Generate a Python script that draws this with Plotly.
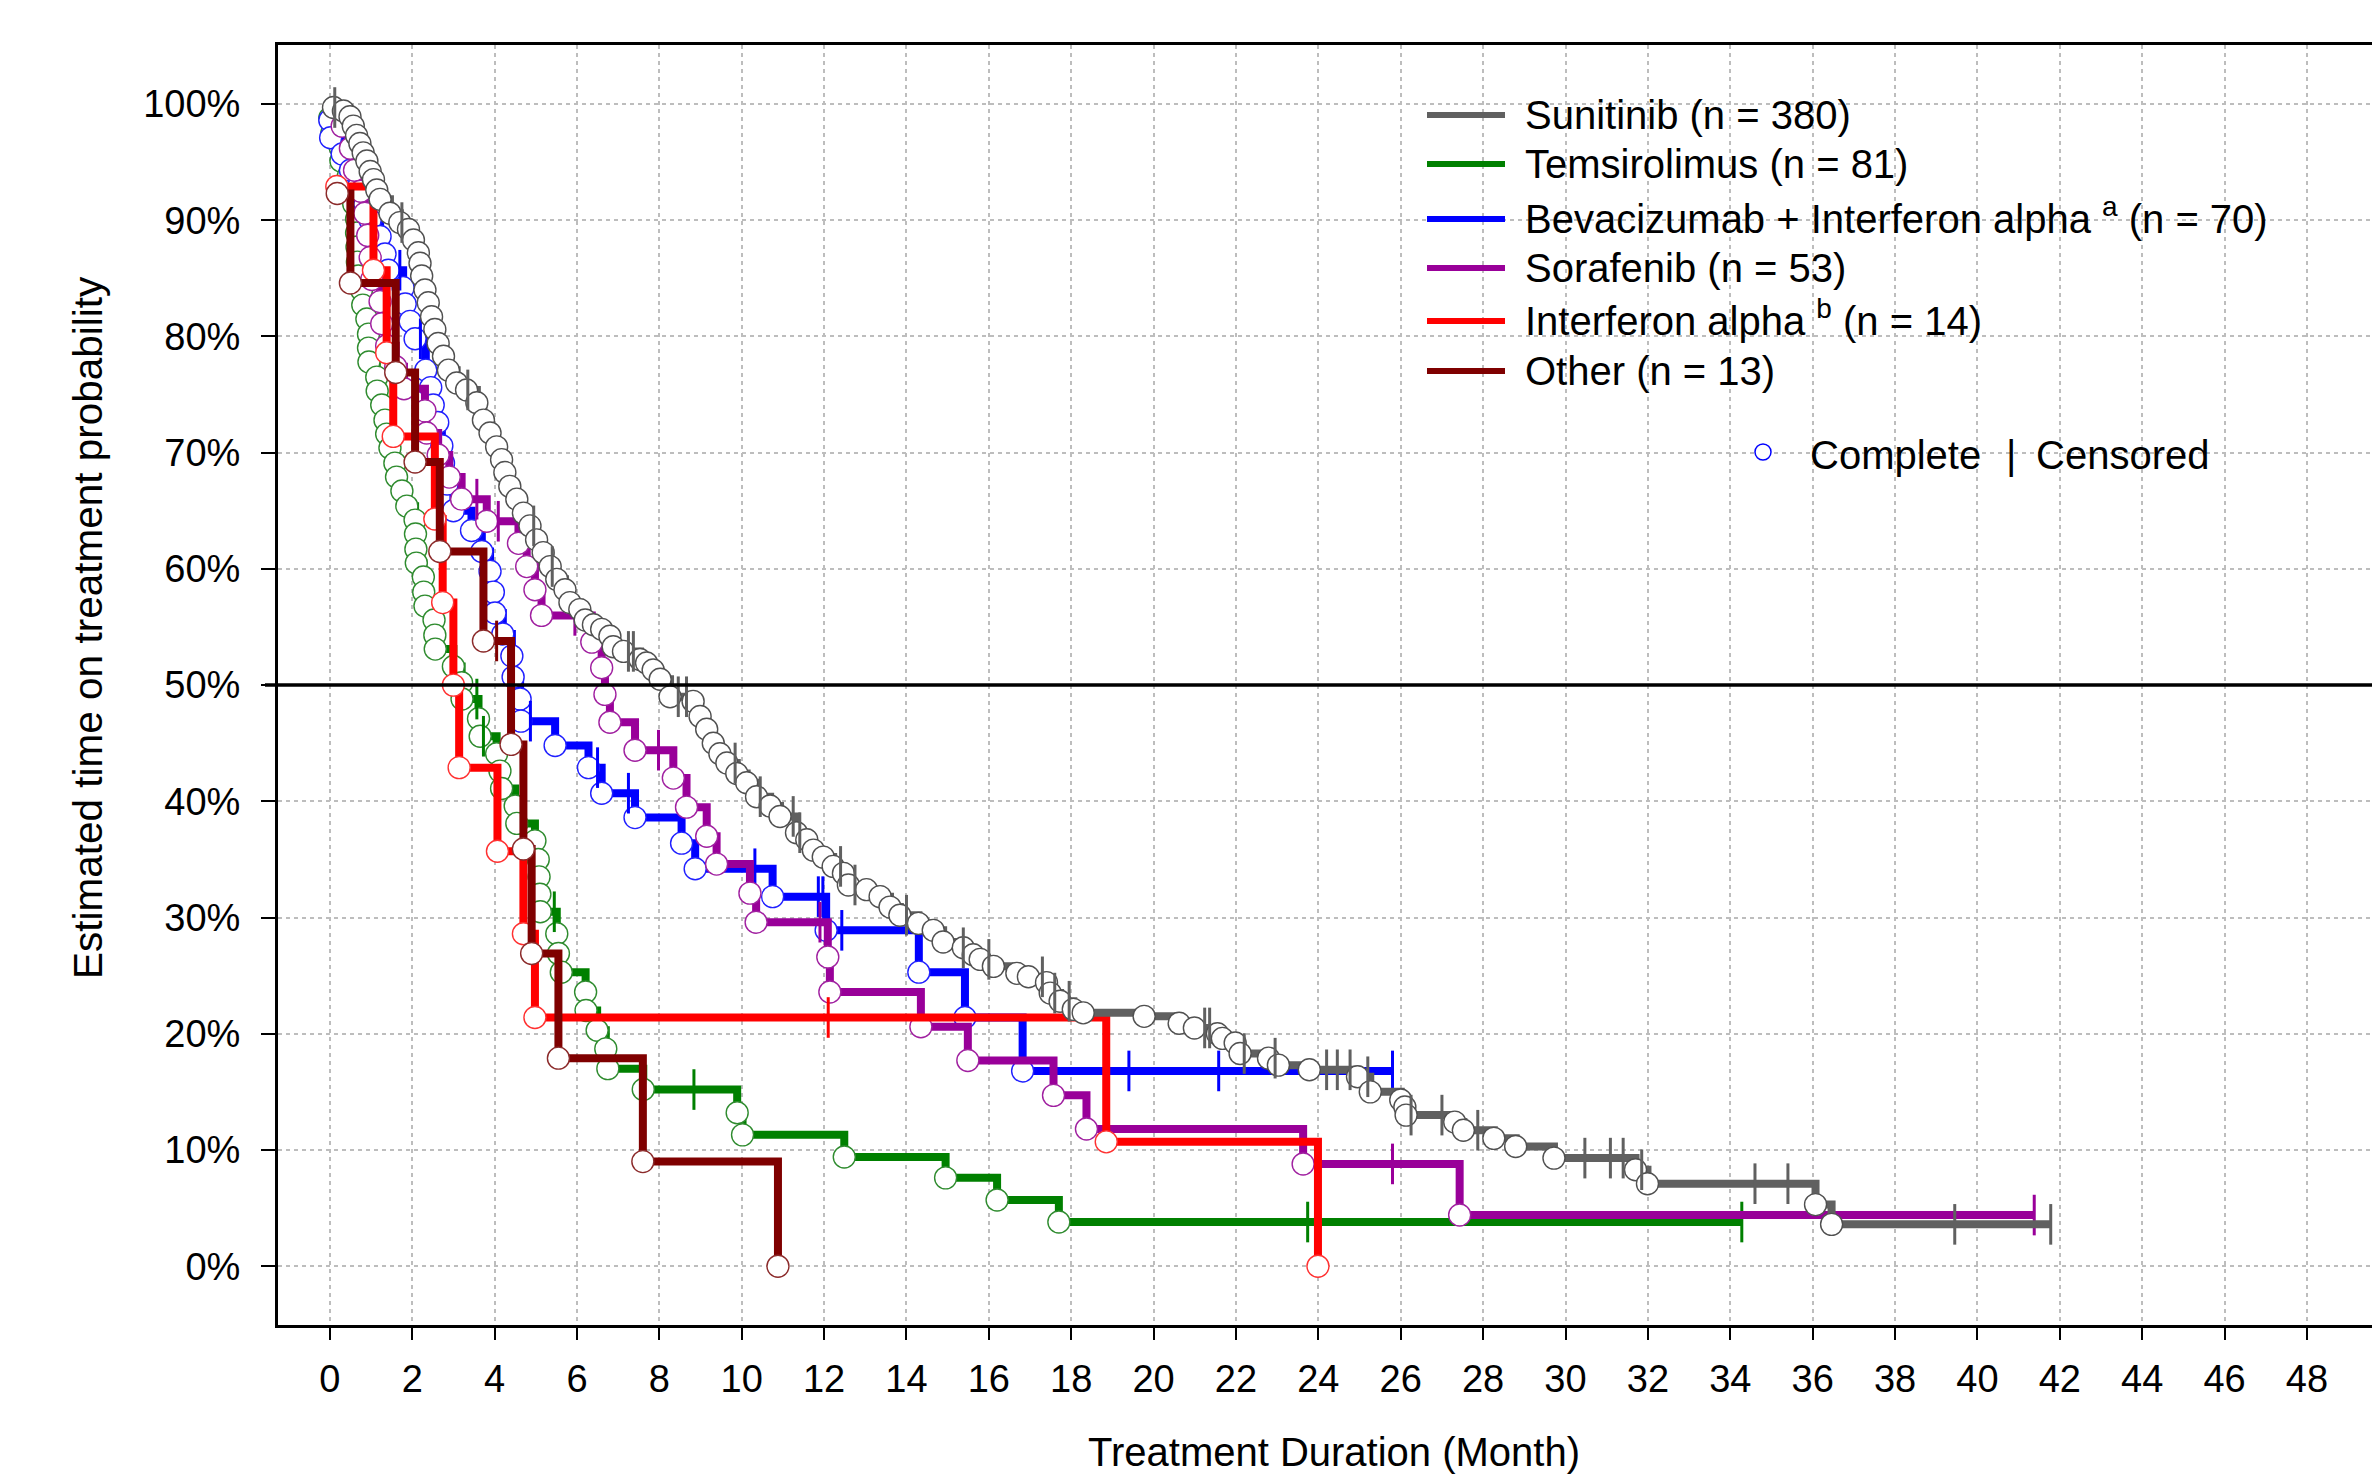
import plotly.graph_objects as go

# ----------------------------- data -----------------------------
x_tick_vals = list(range(0, 52, 2))
x_tick_text = [str(v) for v in x_tick_vals]
y_tick_vals = list(range(0, 110, 10))
y_tick_text = [f"{v}%" for v in y_tick_vals]

series_labels = [
    "Sunitinib (n = 380)",
    "Temsirolimus (n = 81)",
    "Bevacizumab + Interferon alpha <sup>a</sup> (n = 70)",
    "Sorafenib (n = 53)",
    "Interferon alpha <sup>b</sup> (n = 14)",
    "Other (n = 13)",
]
x_title = "Treatment Duration (Month)"
y_title = "Estimated time on treatment probability"
marker_labels = ["Complete", "|", "Censored"]
ref_line_value = 50

# Sunitinib: completed-event times (months) and survival (%) after each event; censored times
sun_t = [0.09, 0.33, 0.49, 0.57, 0.65, 0.73, 0.81, 0.90, 0.98, 1.06,
         1.14, 1.22, 1.46, 1.70, 1.91, 2.03, 2.15, 2.19, 2.23, 2.31,
         2.39, 2.47, 2.55, 2.63, 2.76, 2.88, 3.08, 3.32, 3.57, 3.73,
         3.89, 4.05, 4.17, 4.25, 4.37, 4.54, 4.70, 4.86, 5.02, 5.18,
         5.35, 5.51, 5.71, 5.83, 6.07, 6.20, 6.40, 6.60, 6.80, 6.88,
         7.13, 7.53, 7.69, 7.85, 8.02, 8.26, 8.82, 8.99, 9.15, 9.31,
         9.47, 9.64, 9.88, 10.12, 10.36, 10.69, 10.93, 11.33, 11.58, 11.74,
         11.98, 12.22, 12.47, 12.59, 13.03, 13.36, 13.60, 13.84, 14.29, 14.65,
         14.89, 15.38, 15.62, 15.79, 16.11, 16.68, 16.96, 17.40, 17.49, 17.73,
         18.05, 18.29, 19.77, 20.62, 20.99, 21.55, 21.67, 21.98, 22.10, 22.79,
         23.03, 23.78, 24.95, 25.26, 26.00, 26.10, 26.13, 27.31, 27.52, 28.26,
         28.79, 29.72, 31.70, 31.99, 36.07, 36.46]
sun_s = [99.7, 99.4, 98.9, 98.1, 97.3, 96.6, 95.8, 95.1, 94.2, 93.5,
         92.6, 91.8, 90.6, 89.8, 89.2, 88.3, 87.2, 86.3, 85.2, 84.0,
         82.9, 81.7, 80.6, 79.4, 78.3, 77.1, 76.0, 75.4, 74.3, 72.8,
         71.7, 70.5, 69.4, 68.3, 67.1, 66.0, 64.8, 63.7, 62.5, 61.4,
         60.2, 59.1, 58.2, 57.1, 56.5, 55.6, 55.2, 54.8, 54.2, 53.3,
         52.9, 52.2, 51.9, 51.3, 50.5, 49.0, 48.6, 47.3, 46.2, 45.0,
         44.1, 43.3, 42.4, 41.6, 40.4, 39.6, 38.7, 37.3, 36.7, 35.8,
         35.2, 34.4, 33.8, 32.8, 32.4, 31.8, 30.9, 30.2, 29.5, 28.9,
         27.9, 27.4, 26.8, 26.4, 25.8, 25.2, 24.9, 24.4, 23.5, 22.8,
         22.1, 21.8, 21.5, 20.9, 20.5, 20.0, 19.6, 19.2, 18.3, 17.9,
         17.3, 16.9, 16.3, 15.0, 14.3, 13.7, 13.0, 12.4, 11.7, 11.0,
         10.3, 9.3, 8.3, 7.1, 5.3, 3.6]
sun_cens = [0.12, 1.75, 3.35, 4.95, 5.40, 7.25, 7.37, 8.46, 8.66, 9.84,
            10.45, 11.25, 11.41, 12.40, 12.75, 14.00, 15.38, 16.00, 17.30, 17.60,
            17.95, 21.24, 21.36, 22.20, 22.95, 24.20, 24.46, 24.77, 25.20, 26.25,
            27.00, 27.87, 30.47, 31.09, 31.40, 31.85, 34.60, 35.40, 39.45, 41.78]

# Temsirolimus
tem_t = [0.00, 0.05, 0.25, 0.27, 0.45, 0.50, 0.58, 0.65, 0.65, 0.66,
         0.67, 0.69, 0.77, 0.80, 0.90, 0.94, 0.94, 0.95, 1.14, 1.15,
         1.26, 1.34, 1.38, 1.46, 1.58, 1.62, 1.75, 1.87, 2.07, 2.08,
         2.09, 2.10, 2.27, 2.28, 2.31, 2.53, 2.55, 2.56, 3.00, 3.20,
         3.21, 3.61, 3.65, 4.05, 4.13, 4.17, 4.50, 4.54, 4.98, 5.06,
         5.08, 5.10, 5.11, 5.51, 5.55, 5.62, 6.21, 6.22, 6.49, 6.70,
         6.75, 7.61, 9.89, 10.02, 12.49, 14.95, 16.20, 17.70]
tem_s = [98.8, 97.5, 96.3, 95.1, 93.8, 92.6, 91.4, 90.1, 88.9, 87.7,
         86.4, 85.2, 84.0, 82.7, 81.5, 80.2, 79.0, 77.8, 76.5, 75.3,
         74.1, 72.8, 71.6, 70.4, 69.1, 67.9, 66.7, 65.4, 64.2, 63.0,
         61.7, 60.5, 59.3, 58.0, 56.8, 55.6, 54.3, 53.1, 51.6, 50.2,
         48.8, 47.1, 45.6, 44.1, 42.6, 41.1, 39.6, 38.1, 36.6, 35.0,
         33.5, 32.0, 30.5, 28.6, 26.9, 25.3, 23.6, 22.0, 20.3, 18.7,
         17.0, 15.2, 13.2, 11.3, 9.4, 7.6, 5.7, 3.8]
tem_cens = [3.57, 3.73, 5.45, 8.84, 23.74, 34.28]

# Bevacizumab + Interferon alpha
bev_t = [0.00, 0.02, 0.30, 0.50, 0.70, 0.85, 0.98, 1.22, 1.34, 1.42,
         1.78, 1.83, 1.95, 2.07, 2.33, 2.45, 2.51, 2.62, 2.72, 2.76,
         2.85, 3.00, 3.44, 3.69, 3.89, 3.97, 4.01, 4.20, 4.42, 4.45,
         4.62, 4.64, 5.47, 6.28, 6.60, 7.41, 8.54, 8.87, 10.75, 12.05,
         14.30, 15.42, 16.82]
bev_s = [98.6, 97.1, 95.7, 94.3, 92.9, 91.4, 90.0, 88.6, 87.1, 85.7,
         84.2, 82.8, 81.3, 79.8, 77.1, 75.6, 74.1, 72.6, 70.6, 69.1,
         67.3, 65.0, 63.3, 61.5, 59.8, 58.0, 56.2, 54.4, 52.5, 50.7,
         48.8, 46.9, 44.8, 42.9, 40.7, 38.6, 36.4, 34.2, 31.8, 28.9,
         25.3, 21.4, 16.8]
bev_cens = [1.70, 2.20, 4.87, 6.50, 7.25, 10.32, 11.86, 11.97, 12.43, 19.40, 21.58, 25.80]

# Sorafenib
sor_t = [0.30, 0.50, 0.60, 0.75, 0.85, 0.92, 0.98, 1.02, 1.22, 1.26,
         1.38, 1.60, 1.80, 2.31, 2.35, 2.63, 2.90, 3.20, 3.81, 4.58,
         4.78, 4.98, 5.14, 6.36, 6.60, 6.68, 6.80, 7.41, 8.34, 8.66,
         9.15, 9.39, 10.20, 10.35, 12.09, 12.14, 14.35, 15.49, 17.57, 18.37,
         23.63, 27.43]
sor_s = [98.1, 96.2, 94.3, 92.5, 90.6, 88.7, 86.8, 84.9, 83.0, 81.1,
         79.2, 77.4, 75.5, 73.6, 71.7, 69.8, 67.9, 66.0, 64.1, 62.2,
         60.2, 58.2, 56.0, 53.7, 51.5, 49.2, 46.8, 44.4, 42.0, 39.5,
         37.0, 34.6, 32.1, 29.6, 26.6, 23.6, 20.6, 17.7, 14.7, 11.8,
         8.8, 4.4]
sor_cens = [3.57, 4.09, 5.95, 7.98, 11.90, 25.80, 41.38]

# Interferon alpha
ifn_t = [0.17, 1.06, 1.38, 1.54, 2.55, 2.74, 3.00, 3.14, 4.07, 4.70, 4.98, 18.85, 23.99]
ifn_s = [92.9, 85.7, 78.6, 71.4, 64.3, 57.1, 50.0, 42.9, 35.7, 28.6, 21.4, 10.7, 0.0]
ifn_cens = [12.10]

# Other
oth_t = [0.18, 0.50, 1.60, 2.07, 2.67, 3.73, 4.40, 4.70, 4.90, 5.55, 7.60, 10.88]
oth_s = [92.3, 84.6, 76.9, 69.2, 61.5, 53.8, 44.9, 35.9, 26.9, 17.9, 9.0, 0.0]
oth_cens = [4.05]

# ----------------------------- styles -----------------------------
FONT = "Liberation Sans, Arial, sans-serif"
W, H = 2372, 1475
ML, MR, MT, MB = 278, 0, 45, 150
colors = {"sun": "#606060", "tem": "#008000", "bev": "#0000FF",
          "sor": "#990099", "ifn": "#FF0000", "oth": "#7F0000"}
outline = {"sun": "#505050", "tem": "#2E8B2E", "bev": "#2020FF",
           "sor": "#A020A0", "ifn": "#FF3030", "oth": "#8B2A2A"}


def km_path(et, es, ct):
    items = sorted([(t, 0, s) for t, s in zip(et, es)] + [(t, 1, None) for t in ct],
                   key=lambda p: (p[0], p[1]))
    cur = 100.0
    xs, ys, cx, cy = [], [], [], []
    for t, kind, s in items:
        if kind == 0:
            cur = s
        else:
            cx.append(t)
            cy.append(cur)
        xs.append(t)
        ys.append(cur)
    return xs, ys, cx, cy


data = {
    "sun": (sun_t, sun_s, sun_cens),
    "tem": (tem_t, tem_s, tem_cens),
    "bev": (bev_t, bev_s, bev_cens),
    "sor": (sor_t, sor_s, sor_cens),
    "ifn": (ifn_t, ifn_s, ifn_cens),
    "oth": (oth_t, oth_s, oth_cens),
}
draw_order = ["tem", "bev", "sor", "ifn", "sun", "oth"]
legend_order = ["sun", "tem", "bev", "sor", "ifn", "oth"]

fig = go.Figure()
for key in draw_order:
    et, es, ct = data[key]
    xs, ys, cx, cy = km_path(et, es, ct)
    fig.add_trace(go.Scatter(x=xs, y=ys, mode="lines",
                             line=dict(color=colors[key], width=8, shape="hv"),
                             hoverinfo="skip", showlegend=False))
    fig.add_trace(go.Scatter(x=et, y=es, mode="markers",
                             marker=dict(symbol="circle", size=22, color="white",
                                         line=dict(color=outline[key], width=1.4)),
                             hoverinfo="skip", showlegend=False))
    fig.add_trace(go.Scatter(x=cx, y=cy, mode="markers",
                             marker=dict(symbol="line-ns", size=29,
                                         line=dict(color=colors[key], width=3)),
                             hoverinfo="skip", showlegend=False))

plot_w = W - ML - MR
plot_h = H - MT - MB


def px_x(px):
    return (px - ML) / plot_w


def px_y(py):
    return (H - MB - py) / plot_h


shapes = [dict(type="line", xref="paper", yref="y", x0=px_x(265), x1=1.0,
               y0=ref_line_value, y1=ref_line_value,
               line=dict(color="black", width=3.5), layer="above")]
annotations = []

legend_rows_px = [115, 164, 219, 268, 321, 371]
text_rows_px = [115, 164, 216, 268, 318, 371]
for key, label, ry, ty in zip(legend_order, series_labels, legend_rows_px, text_rows_px):
    shapes.append(dict(type="line", xref="paper", yref="paper",
                       x0=px_x(1427), x1=px_x(1505), y0=px_y(ry), y1=px_y(ry),
                       line=dict(color=colors[key], width=6), layer="above"))
    annotations.append(dict(xref="paper", yref="paper", x=px_x(1523), y=px_y(ty),
                            xanchor="left", yanchor="middle", text=label,
                            showarrow=False, font=dict(family=FONT, size=40, color="black")))

# complete / censored key
shapes.append(dict(type="circle", xref="paper", yref="paper",
                   xsizemode="pixel", ysizemode="pixel",
                   xanchor=px_x(1763), yanchor=px_y(452),
                   x0=-8, x1=8, y0=-8, y1=8,
                   line=dict(color="#0000FF", width=1.5), fillcolor="white", layer="above"))
for lab, xp in zip(marker_labels, [1808, 2004, 2034]):
    annotations.append(dict(xref="paper", yref="paper", x=px_x(xp), y=px_y(455),
                            xanchor="left", yanchor="middle", text=lab,
                            showarrow=False, font=dict(family=FONT, size=40, color="black")))

annotations.append(dict(xref="paper", yref="paper", x=px_x(1334), y=px_y(1452),
                        xanchor="center", yanchor="middle", text=x_title, showarrow=False,
                        font=dict(family=FONT, size=40, color="black")))
annotations.append(dict(xref="paper", yref="paper", x=px_x(88), y=px_y(628),
                        xanchor="center", yanchor="middle", text=y_title, showarrow=False,
                        textangle=-90, font=dict(family=FONT, size=40.5, color="black")))

grid = dict(showgrid=True, gridcolor="#BDBDBD", gridwidth=2, griddash="4px,4px",
            zeroline=False, showline=True, linecolor="black", linewidth=3,
            ticks="outside", tickcolor="black", tickwidth=2,
            tickfont=dict(family=FONT, size=38, color="black"))

fig.update_layout(
    width=W, height=H,
    margin=dict(l=ML, r=MR, t=MT, b=MB, pad=0),
    paper_bgcolor="white", plot_bgcolor="white",
    showlegend=False,
    font=dict(family=FONT, size=38, color="black"),
    shapes=shapes, annotations=annotations,
    xaxis=dict(range=[-1.258, 49.58], tickmode="array", tickvals=x_tick_vals,
               ticktext=x_tick_text, ticklen=12, ticklabelstandoff=6, mirror=True, **grid),
    yaxis=dict(range=[-5.06, 105.08], tickmode="array", tickvals=y_tick_vals,
               ticktext=y_tick_text, ticklen=14, ticklabelstandoff=13, **grid),
)

fig.write_html("out.html", config={"displayModeBar": False},
               post_script="document.body.style.margin='0';document.body.style.padding='0';document.body.style.overflow='hidden';")
